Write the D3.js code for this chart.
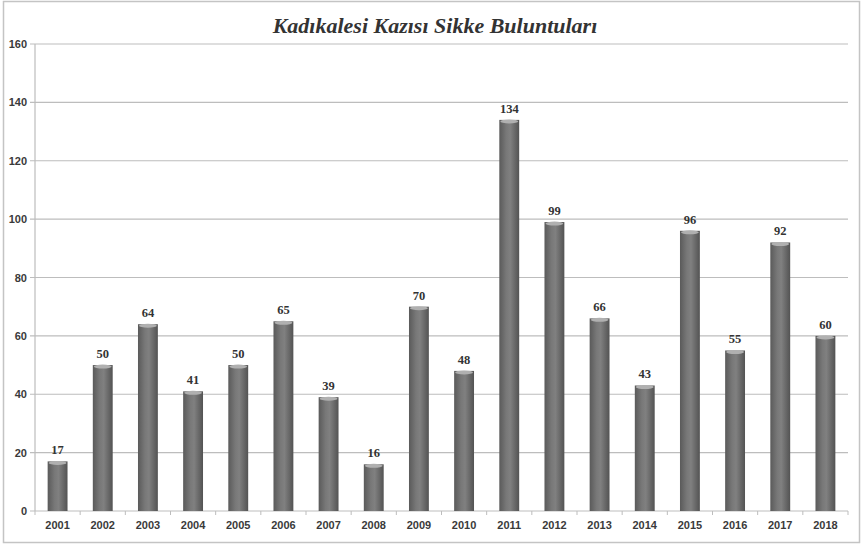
<!DOCTYPE html>
<html><head><meta charset="utf-8">
<script src="https://cdn.jsdelivr.net/npm/d3@7"></script>
<style>body{margin:0;background:#fff}svg{display:block}</style>
</head><body>
<script>
const years = ["2001","2002","2003","2004","2005","2006","2007","2008","2009","2010","2011","2012","2013","2014","2015","2016","2017","2018"];
const coins = [17,50,64,41,50,65,39,16,70,48,134,99,66,43,96,55,92,60];
const yTicks = [0,20,40,60,80,100,120,140,160];
const title = "Kadıkalesi Kazısı Sikke Buluntuları";

const W=863,H=546, m={l:35,r:15,t:44,b:35};
const svg=d3.select("body").append("svg").attr("width",W).attr("height",H);
svg.append("rect").attr("x",3.5).attr("y",1.5).attr("width",W-7).attr("height",H-5).attr("fill","#fff").attr("stroke","#c4c4c4").attr("stroke-width",1.5);

const x=d3.scaleBand().domain(years).range([m.l,W-m.r]).paddingInner(0.56).paddingOuter(0.28);
const y=d3.scaleLinear().domain([0,160]).range([H-m.b,m.t]);

const defs=svg.append("defs");
const g=defs.append("linearGradient").attr("id","bar").attr("x1","0").attr("x2","1").attr("y1","0").attr("y2","0");
[[0,"#5a5a5a"],[0.35,"#787878"],[0.55,"#808080"],[1,"#535353"]].forEach(([o,c])=>g.append("stop").attr("offset",o).attr("stop-color",c));

// gridlines
svg.append("g").selectAll("line").data(yTicks).join("line")
 .attr("x1",m.l-5).attr("x2",W-m.r).attr("y1",d=>y(d)).attr("y2",d=>y(d))
 .attr("stroke","#bdbdbd").attr("stroke-width",1.2);
// y axis line
svg.append("line").attr("x1",m.l).attr("x2",m.l).attr("y1",y(160)).attr("y2",y(0)).attr("stroke","#bdbdbd").attr("stroke-width",1.2);
// x ticks
const step=x.step();
svg.append("g").selectAll("line").data(d3.range(years.length+1)).join("line")
 .attr("x1",i=>m.l+i*step).attr("x2",i=>m.l+i*step).attr("y1",y(0)).attr("y2",y(0)+4)
 .attr("stroke","#bdbdbd");

// y labels
svg.append("g").selectAll("text").data(yTicks).join("text")
 .attr("x",m.l-8).attr("y",d=>y(d)+4).attr("text-anchor","end")
 .attr("font-family","Liberation Sans, Arial, sans-serif").attr("font-weight","bold").attr("font-size",11).attr("fill","#3a3a3a").text(d=>d);
// x labels
svg.append("g").selectAll("text").data(years).join("text")
 .attr("x",d=>x(d)+x.bandwidth()/2).attr("y",y(0)+18).attr("text-anchor","middle")
 .attr("font-family","Liberation Sans, Arial, sans-serif").attr("font-weight","bold").attr("font-size",11).attr("fill","#3a3a3a").text(d=>d);

// bars
const data=years.map((yr,i)=>({yr,v:coins[i]}));
const bg=svg.append("g").selectAll("g").data(data).join("g");
bg.append("rect").attr("x",d=>x(d.yr)).attr("width",x.bandwidth()).attr("y",d=>y(d.v)).attr("height",d=>y(0)-y(d.v)).attr("fill","url(#bar)");
bg.append("ellipse").attr("cx",d=>x(d.yr)+x.bandwidth()/2).attr("cy",d=>y(d.v)+1.5).attr("rx",x.bandwidth()/2-1).attr("ry",2).attr("fill","#b0b0b0");

// value labels
svg.append("g").selectAll("text").data(data).join("text")
 .attr("x",d=>x(d.yr)+x.bandwidth()/2).attr("y",d=>y(d.v)-7).attr("text-anchor","middle")
 .attr("font-family","Liberation Serif, Times New Roman, serif").attr("font-weight","bold").attr("font-size",12.5).attr("fill","#333").text(d=>d.v);

// title
svg.append("text").attr("x",435).attr("y",33).attr("text-anchor","middle")
 .attr("font-family","Liberation Serif, Times New Roman, serif").attr("font-weight","bold").attr("font-style","italic").attr("font-size",22).attr("fill","#333").text(title);
</script>
</body></html>
